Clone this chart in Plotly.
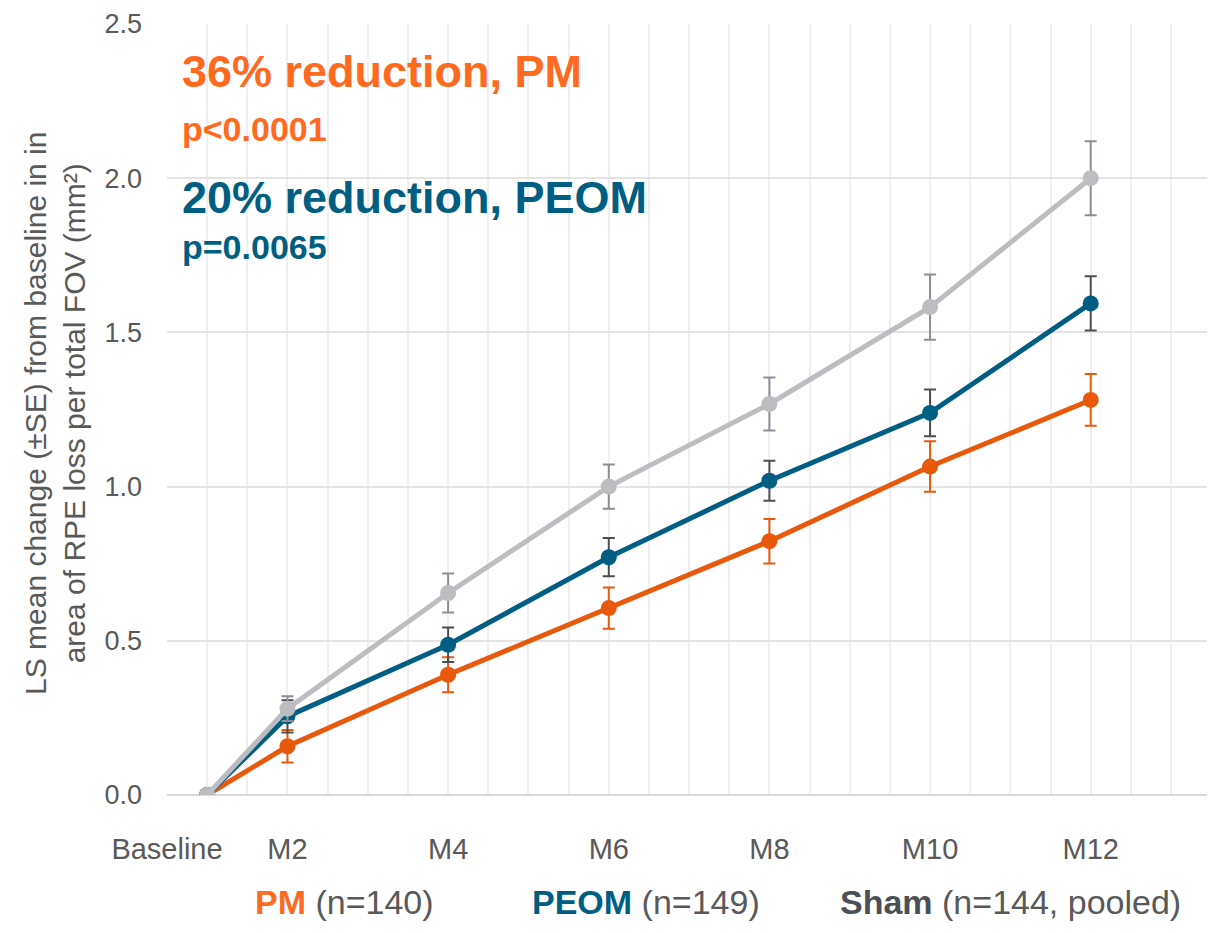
import plotly.graph_objects as go

# ---- data ----
visits = ["Baseline", "M2", "M4", "M6", "M8", "M10", "M12"]
visit_pos = [1, 2, 4, 6, 8, 10, 12]
label_pos = [0.5, 2, 4, 6, 8, 10, 12]   # where the tick texts sit on the axis

pm_mean = [0.0, 0.158, 0.390, 0.606, 0.823, 1.065, 1.281]
pm_se = [None, 0.053, 0.057, 0.067, 0.072, 0.082, 0.084]

peom_mean = [0.0, 0.255, 0.487, 0.771, 1.019, 1.239, 1.594]
peom_se = [None, 0.052, 0.056, 0.062, 0.065, 0.076, 0.088]

sham_mean = [0.0, 0.280, 0.655, 1.000, 1.268, 1.582, 2.000]
sham_se = [None, 0.040, 0.063, 0.072, 0.086, 0.106, 0.120]

y_ticks = [0.0, 0.5, 1.0, 1.5, 2.0, 2.5]

ORANGE = "#E8590C"
ORANGE_TXT = "#FF6A1F"
BLUE = "#005E82"
GRAY = "#BBBDC1"
GRAY_ERR = "#8A8F97"
DARK_ERR = "#4A4F55"
TXT = "#595959"
FONT = "Liberation Sans, Arial, sans-serif"

# page geometry (body has an 8px margin in the browser)
BODY = 8
PLOT_L, PLOT_R, PLOT_T, PLOT_B = 167, 1212, 20, 795
FIG_W, FIG_H = 1205, 917

fig = go.Figure()

def add_series(y, se, color, err_color, name):
    fig.add_trace(go.Scatter(
        x=visit_pos, y=y, name=name, mode="lines+markers",
        line=dict(color=color, width=5),
        marker=dict(color=color, size=16),
        error_y=dict(type="data", array=se, visible=True, color=err_color,
                     thickness=2, width=6),
        showlegend=False,
    ))

add_series(pm_mean, pm_se, ORANGE, ORANGE, "PM")
add_series(peom_mean, peom_se, BLUE, DARK_ERR, "PEOM")
add_series(sham_mean, sham_se, GRAY, GRAY_ERR, "Sham")

# x ticks every half unit (for gridlines); labels only at label positions
grid_vals = [0.5 + 0.5 * i for i in range(27)]
label_map = dict(zip(label_pos, visits))
grid_text = [label_map.get(v, "") for v in grid_vals]

fig.update_layout(
    width=FIG_W, height=FIG_H,
    margin=dict(l=PLOT_L - BODY, r=FIG_W - (PLOT_R - BODY), t=PLOT_T - BODY,
                b=FIG_H - (PLOT_B - BODY), pad=0),
    plot_bgcolor="white", paper_bgcolor="white",
    font=dict(family=FONT, color=TXT),
    xaxis=dict(
        range=[0.5, 13.51], tickmode="array", tickvals=grid_vals, ticktext=grid_text,
        showgrid=True, gridcolor="#EFEFEF", gridwidth=1.5,
        zeroline=False, showline=False, ticks="",
        tickfont=dict(size=29, color=TXT, family=FONT),
        ticklabelstandoff=34, ticklabeloverflow="allow",
    ),
    yaxis=dict(
        range=[0, 2.5], tickmode="array", tickvals=y_ticks,
        ticktext=[f"{v:.1f}" for v in y_ticks],
        showgrid=True, gridcolor="#E4E4E4", gridwidth=2,
        zeroline=True, zerolinecolor="#D9D9D9", zerolinewidth=2,
        showline=False, ticks="",
        tickfont=dict(size=27, color=TXT, family=FONT),
        ticklabelstandoff=24, ticklabeloverflow="allow",
    ),
)

def px(xp):
    return (xp - PLOT_L) / (PLOT_R - PLOT_L)

def py(yp):
    return (PLOT_B - yp) / (PLOT_B - PLOT_T)

annotations = [
    dict(text="<b>36% reduction, PM</b>", x=180, y=68, font=dict(size=45, color=ORANGE_TXT)),
    dict(text="<b>p<0.0001</b>", x=180, y=126, font=dict(size=34, color=ORANGE_TXT)),
    dict(text="<b>20% reduction, PEOM</b>", x=180, y=194, font=dict(size=45, color=BLUE)),
    dict(text="<b>p=0.0065</b>", x=180, y=244, font=dict(size=34, color=BLUE)),
]
for a in annotations:
    fig.add_annotation(
        text=a["text"], xref="paper", yref="paper",
        x=px(a["x"]), y=py(a["y"]),
        xanchor="left", yanchor="middle", showarrow=False,
        font=dict(family=FONT, **a["font"]),
    )

# y-axis title
fig.add_annotation(
    text="LS mean change (±SE) from baseline in in<br>area of RPE loss per total FOV (mm²)",
    xref="paper", yref="paper", x=px(55), y=py(412),
    xanchor="center", yanchor="middle", textangle=-90, showarrow=False,
    font=dict(family=FONT, size=30, color=TXT),
)

# bottom legend
legend_items = [
    ("PM", "(n=140)", ORANGE_TXT, 344),
    ("PEOM", "(n=149)", BLUE, 646),
    ("Sham", "(n=144, pooled)", "#4A5056", 1010),
]
for bold, rest, col, cx in legend_items:
    fig.add_annotation(
        text=f"<span style='color:{col}'><b>{bold}</b></span> {rest}",
        xref="paper", yref="paper", x=px(cx), y=py(903),
        xanchor="center", yanchor="middle", showarrow=False,
        font=dict(family=FONT, size=34, color=TXT),
    )

fig.write_html("out.html")
